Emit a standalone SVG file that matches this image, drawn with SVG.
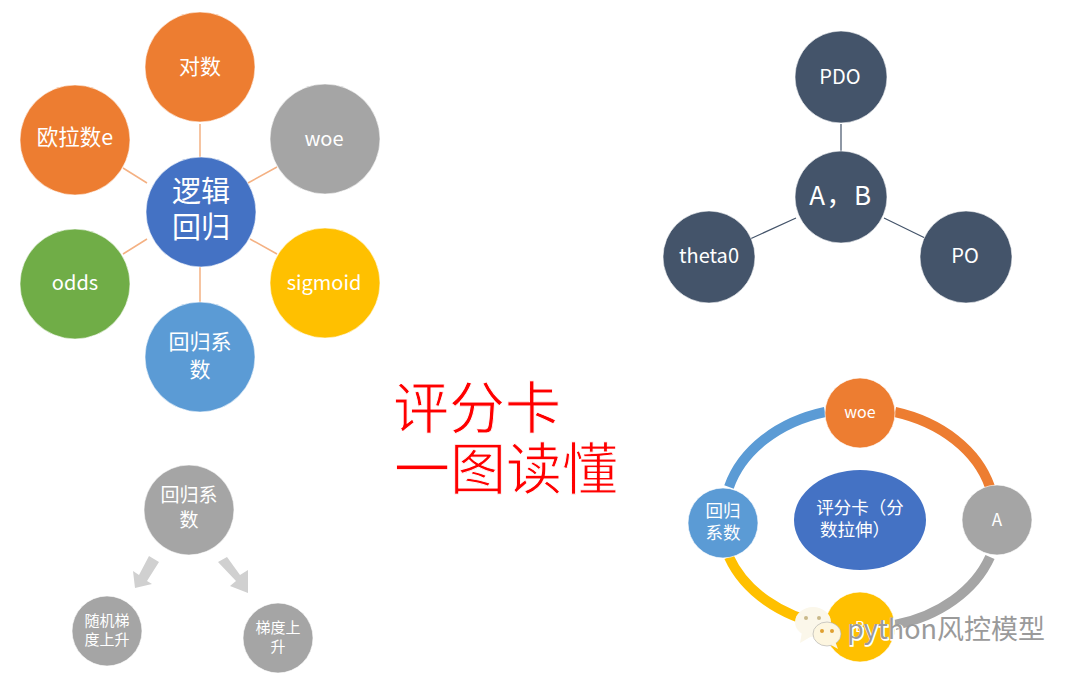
<svg xmlns="http://www.w3.org/2000/svg" width="1080" height="681" viewBox="0 0 1080 681">
<style>
text{font-family:"Noto Sans CJK SC","Noto Sans",sans-serif;fill:#fff;text-anchor:middle}
.o{fill:#ed7d31}.g{fill:#a5a5a5}.y{fill:#ffc000}.b{fill:#5b9bd5}.gr{fill:#70ad47}.d{fill:#44546a}.c{fill:#4472c4}
.n{stroke:#fff;stroke-width:0.6}
.l1{stroke:#f4b183;stroke-width:1.5;fill:none}
.l2{stroke:#44546a;stroke-width:1.2;fill:none}
.arc{fill:none;stroke-width:10}
#title text{fill:#ff0000;stroke:#fff;stroke-width:0.9;font-size:56px}
</style>
<rect width="1080" height="681" fill="#fff"/>
<g id="connectors">
<path class="l1" d="M200 124V160M147 183L123 168M248 183L277 167M147 239L123 254M250 239L277 254M200 266V302"/>
<path class="l2" d="M841 124V153M796 218L750 239M884 218L925 238"/>
<path class="arc" stroke="#ed7d31" d="M895 412A137 107 0 0 1 990 487"/>
<path class="arc" stroke="#a5a5a5" d="M990 557A137 107 0 0 1 895 625"/>
<path class="arc" stroke="#ffc000" d="M825 625A137 107 0 0 1 729 557"/>
<path class="arc" stroke="#5b9bd5" d="M729 487A137 107 0 0 1 825 412"/>
<polygon fill="#d0d0d0" points="149,556 159,562 147,581 152,584 135,588 133,571 139,575"/>
<polygon fill="#d0d0d0" points="218,562 227,557 240,575 248,570 248,593 230,586 236,581"/>
</g>
<g id="n-log"><circle class="o n" cx="200" cy="67" r="55"/><text x="200" y="74" font-size="21">对数</text></g>
<g id="n-woe"><circle class="g n" cx="325" cy="139" r="55"/><text x="324" y="146" font-size="20">woe</text></g>
<g id="n-sigmoid"><circle class="y n" cx="325" cy="283" r="55"/><text x="324" y="290" font-size="20">sigmoid</text></g>
<g id="n-coef"><circle class="b n" cx="200" cy="357" r="55"/><text x="200" y="349" font-size="21">回归系</text><text x="200" y="377" font-size="21">数</text></g>
<g id="n-odds"><circle class="gr n" cx="75" cy="284" r="55"/><text x="75" y="290" font-size="20">odds</text></g>
<g id="n-e"><circle class="o n" cx="75" cy="140" r="55"/><text x="75" y="145" font-size="21.5">欧拉数e</text></g>
<g id="n-center"><circle class="c n" cx="201" cy="212" r="55"/><text x="201" y="202" font-size="29">逻辑</text><text x="201" y="238" font-size="29">回归</text></g>
<g id="n-pdo"><circle class="d n" cx="841" cy="77" r="46"/><text x="840" y="84" font-size="20">PDO</text></g>
<g id="n-ab"><circle class="d n" cx="841" cy="197" r="46"/><text x="841" y="205" font-size="26" letter-spacing="1.5">A，B</text></g>
<g id="n-theta"><circle class="d n" cx="709" cy="257" r="46"/><text x="709" y="263" font-size="20">theta0</text></g>
<g id="n-po"><circle class="d n" cx="966" cy="257" r="46"/><text x="965" y="263" font-size="20">PO</text></g>
<g id="title"><text x="477" y="428">评分卡</text><text x="506" y="489">一图读懂</text></g>
<g id="n-coef2"><circle class="g n" cx="189" cy="510" r="45"/><text x="189" y="502" font-size="19">回归系</text><text x="189" y="527" font-size="19">数</text></g>
<g id="n-sgd"><circle class="g n" cx="107" cy="631" r="35"/><text x="107" y="626" font-size="15">随机梯</text><text x="107" y="645" font-size="15">度上升</text></g>
<g id="n-gd"><circle class="g n" cx="278" cy="638" r="35"/><text x="278" y="633" font-size="15">梯度上</text><text x="278" y="652" font-size="15">升</text></g>
<g id="n-ring-center"><ellipse class="c" cx="860" cy="520" rx="66" ry="50"/><text x="860" y="514" font-size="17.5">评分卡（分</text><text x="855" y="536" font-size="17.5">数拉伸）</text></g>
<g id="n-ring-woe"><circle class="o n" cx="860" cy="413" r="35"/><text x="860" y="418" font-size="16">woe</text></g>
<g id="n-ring-a"><circle class="g n" cx="997" cy="520" r="35"/><text x="997" y="526" font-size="17">A</text></g>
<g id="n-ring-b"><circle class="y n" cx="860" cy="627" r="35"/><text x="860" y="632" font-size="15">B</text></g>
<g id="n-ring-coef"><circle class="b n" cx="723" cy="523" r="35"/><text x="723" y="517" font-size="17.5">回归</text><text x="723" y="539" font-size="17.5">系数</text></g>
<g id="watermark">
<ellipse cx="813" cy="622" rx="18" ry="15" fill="#fbf7ea"/><path d="M802 632L800 643L812 636Z" fill="#fbf7ea"/>
<circle cx="806" cy="618" r="2" fill="#c9b98a"/><circle cx="819" cy="618" r="2" fill="#c9b98a"/>
<ellipse cx="827" cy="634" rx="14" ry="12" fill="#fdf6e0" stroke="#aaa" stroke-width="0.6"/><path d="M831 645L838 649L835 641Z" fill="#fdf6e0"/>
<circle cx="822" cy="631" r="2" fill="#e0a030"/><circle cx="832" cy="631" r="2" fill="#e0a030"/>
<text x="947" y="640" font-size="27" style="fill:#fff" stroke="#fff" stroke-width="1.5">python风控模型</text>
<text x="946" y="639" font-size="27" style="fill:#9a9a9a">python风控模型</text>
</g>
</svg>
